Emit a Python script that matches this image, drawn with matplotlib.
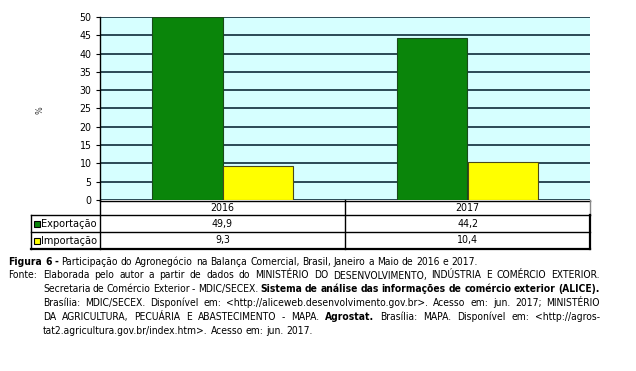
"""Agribusiness share of Brazil's trade balance, Jan-May 2016 and 2017."""

import matplotlib
matplotlib.use('Agg')
import matplotlib.pyplot as plt
from matplotlib.patches import Rectangle

YEARS = ['2016', '2017']
SERIES = ['Exportação', 'Importação']
EXPORT = [49.9, 44.2]
IMPORT = [9.3, 10.4]
EXPORT_LABELS = ['49,9', '44,2']
IMPORT_LABELS = ['9,3', '10,4']
YTICKS = [0, 5, 10, 15, 20, 25, 30, 35, 40, 45, 50]

COLORS = ['#0a850a', '#ffff00']
BG = '#d6ffff'
GRID = '#2b4a55'

# caption lines: (x, y, justified, [(text, bold), ...])
CAPTION = [
    (8, 261.7, False, [('Figura 6 -', True),
                       ('Participação do Agronegócio na Balança Comercial, '
                        'Brasil, Janeiro a Maio de 2016 e 2017.', False)]),
    (43, 275.5, True, [('Elaborada pelo autor a partir de dados do MINISTÉRIO DO '
                        'DESENVOLVIMENTO, INDÚSTRIA E COMÉRCIO EXTERIOR.', False)]),
    (43, 289.3, True, [('Secretaria de Comércio Exterior - MDIC/SECEX.', False),
                       ('Sistema de análise das informações de comércio '
                        'exterior (ALICE).', True)]),
    (43, 303, True, [('Brasília: MDIC/SECEX. Disponível em: '
                      '<http://aliceweb.desenvolvimento.gov.br>. Acesso em: '
                      'jun. 2017; MINISTÉRIO', False)]),
    (43, 317, True, [('DA AGRICULTURA, PECUÁRIA E ABASTECIMENTO - MAPA.', False),
                     ('Agrostat.', True),
                     ('Brasília: MAPA. Disponível em: <http://agros-', False)]),
    (43, 330.7, False, [('tat2.agricultura.gov.br/index.htm>. Acesso em: '
                         'jun. 2017.', False)]),
]

W, H = 636, 371
FONT = dict(family='DejaVu Sans', stretch='condensed')
CAP_SIZE = 7.4


def fx(x):
    return x / W


def fy(y):
    return 1 - y / H


def hline(fig, x0, x1, y, **kw):
    fig.add_artist(plt.Line2D([fx(x0), fx(x1)], [fy(y), fy(y)],
                              transform=fig.transFigure, **kw))


def vline(fig, x, y0, y1, **kw):
    fig.add_artist(plt.Line2D([fx(x), fx(x)], [fy(y0), fy(y1)],
                              transform=fig.transFigure, **kw))


def measure(fig, renderer, s, bold=False):
    t = fig.text(0, 0, s, fontsize=CAP_SIZE,
                 fontweight='bold' if bold else 'normal', **FONT)
    w = t.get_window_extent(renderer).width
    t.remove()
    return w


def draw_caption(fig, right=600):
    """Write the caption word by word, justified where the source is."""
    renderer = fig.canvas.get_renderer()
    gap = measure(fig, renderer, 'a a') - measure(fig, renderer, 'aa')
    fig.text(fx(8), fy(CAPTION[1][1]), 'Fonte:', fontsize=CAP_SIZE,
             va='center', **FONT)
    for x0, y, justify, segments in CAPTION:
        # left edge of every word, relative to its segment start
        words, offsets, seg_w = [], [], []
        for text, bold in segments:
            parts = text.split()
            for i, w in enumerate(parts):
                prefix = ' '.join(parts[:i + 1])
                offsets.append(measure(fig, renderer, prefix, bold)
                               - measure(fig, renderer, w, bold))
                words.append((w, bold, len(seg_w)))
            seg_w.append(measure(fig, renderer, text, bold))
        seg_x = [0]
        for w in seg_w[:-1]:
            seg_x.append(seg_x[-1] + w + gap)
        natural = seg_x[-1] + seg_w[-1]
        extra = 0
        if justify and len(words) > 1:
            extra = (right - x0 - natural) / (len(words) - 1)
        for i, ((w, bold, s), off) in enumerate(zip(words, offsets)):
            fig.text(fx(x0 + seg_x[s] + off + i * extra), fy(y), w,
                     fontsize=CAP_SIZE, va='center',
                     fontweight='bold' if bold else 'normal', **FONT)


def main():
    fig = plt.figure(figsize=(W / 100, H / 100), dpi=100)
    ax = fig.add_axes([fx(100), fy(200), fx(590) - fx(100), fy(17) - fy(200)])
    ax.set_facecolor(BG)

    # bars
    x = range(len(YEARS))
    width = 0.286
    ax.bar([i - width / 2 for i in x], EXPORT, width, color=COLORS[0],
           edgecolor='#1a4a1a', linewidth=0.8, zorder=3)
    ax.bar([i + width / 2 for i in x], IMPORT, width, color=COLORS[1],
           edgecolor='#4a4a1a', linewidth=0.8, zorder=3)

    ax.set_xlim(-0.5, len(YEARS) - 0.5)
    ax.set_ylim(0, 50)
    ax.set_yticks(YTICKS)
    ax.set_yticklabels([str(t) for t in YTICKS], fontsize=7.6, **FONT)
    ax.set_xticks([])
    ax.yaxis.grid(True, color=GRID, linewidth=1.4, zorder=1)
    ax.tick_params(axis='y', length=3, width=0.8, pad=3)
    for side in ('top', 'right', 'bottom'):
        ax.spines[side].set_visible(False)
    ax.spines['left'].set_linewidth(1.0)
    fig.text(fx(40), fy(110), '%', rotation=90, fontsize=6.5, **FONT,
             ha='center', va='center', color='#333333')

    # data table below the axes
    kw = dict(color='black', linewidth=1.0)
    hline(fig, 100, 590, 200.5, **kw)
    hline(fig, 31, 590, 215, **kw)
    hline(fig, 31, 590, 232, **kw)
    hline(fig, 31, 590, 248.5, color='black', linewidth=1.6)
    vline(fig, 100, 200, 249, **kw)
    vline(fig, 31, 215, 249, **kw)
    vline(fig, 345, 200, 249, **kw)
    vline(fig, 590, 200, 215, color='#888888', linewidth=1.0)
    vline(fig, 590, 215, 249.3, color='black', linewidth=1.6)

    colx = [222.5, 467.5]
    for cx, year, ex, im in zip(colx, YEARS, EXPORT_LABELS, IMPORT_LABELS):
        for yc, s in zip([208, 224, 240.5], [year, ex, im]):
            fig.text(fx(cx), fy(yc), s, fontsize=7.6, **FONT,
                     ha='center', va='center')
    for name, color, yc in zip(SERIES, COLORS, [224, 240.5]):
        fig.add_artist(Rectangle((fx(34), fy(yc + 3)), fx(6), 6 / H,
                                 transform=fig.transFigure, facecolor=color,
                                 edgecolor='black', linewidth=0.8))
        fig.text(fx(41), fy(yc), name, fontsize=7.8, **FONT,
                 ha='left', va='center')

    draw_caption(fig)
    fig.savefig('out.png', dpi=100)


if __name__ == '__main__':
    main()
